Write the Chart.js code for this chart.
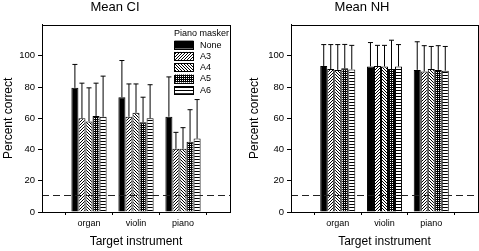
<!DOCTYPE html>
<html>
<head>
<meta charset="utf-8">
<script src="https://cdn.jsdelivr.net/npm/chart.js@4/dist/chart.umd.min.js"></script>
<style>
  html, body { margin: 0; padding: 0; background: #fff; }
  #wrap { position: relative; width: 479px; height: 251px; }
  #ci { position: absolute; left: 0; top: 0; }
  #nh { position: absolute; left: 246px; top: 0; }
</style>
</head>
<body>
<div id="wrap">
  <canvas id="ci" width="240" height="251"></canvas>
  <canvas id="nh" width="233" height="251"></canvas>
</div>
<script>
// categories on the x axis, placed at 1..3 on a 0..4 linear scale
const categories = ["organ", "violin", "piano"];
const categoryPos = [1, 2, 3];
const maskers = ["None", "A3", "A4", "A5", "A6"];
const yTicks = [0, 20, 40, 60, 80, 100];

// rows = masker, columns = organ / violin / piano
const ciMeans = [
  [79.5, 73.5, 61],
  [60, 61, 40.5],
  [58, 63.5, 40.5],
  [61.5, 57.5, 45],
  [61, 60, 47],
];
const ciUpper = [
  [94.5, 97, 86.5],
  [82.5, 82, 51],
  [79.5, 82, 54],
  [82.5, 73.5, 65.5],
  [87, 81.5, 72],
];
const nhMeans = [
  [93.5, 93.2, 91],
  [91.5, 93.5, 90],
  [91, 93.2, 91.5],
  [92, 91.5, 91],
  [91.3, 93.2, 90.5],
];
const nhUpper = [
  [107.2, 108.5, 109],
  [107.2, 106.7, 106.5],
  [107.2, 106.7, 106],
  [107.3, 110, 106.5],
  [106.7, 107.2, 106],
];
const chanceLevel = 11.1;

Chart.defaults.font.family = "'Liberation Sans', Arial, sans-serif";
Chart.defaults.color = "#000";

// small pixel patterns for the hatched bars
const makePattern = (size, isInk) => {
  const c = document.createElement("canvas");
  c.width = c.height = size;
  const g = c.getContext("2d");
  g.fillStyle = "#fff";
  g.fillRect(0, 0, size, size);
  g.fillStyle = "#000";
  for (let y = 0; y < size; y++) {
    for (let x = 0; x < size; x++) {
      if (isInk(x, y)) g.fillRect(x, y, 1, 1);
    }
  }
  return g.createPattern(c, "repeat");
};

const fills = [
  "#000",
  makePattern(3, (x, y) => (x + y) % 3 === 0),
  makePattern(3, (x, y) => ((x - y) % 3 + 3) % 3 === 0),
  makePattern(2, (x, y) => !(x === 0 && y === 0)),
  makePattern(3, (x, y) => y % 3 === 0),
];

const extras = {
  id: "extras",
  afterDatasetsDraw(chart, args, opts) {
    const { ctx, chartArea: a, scales } = chart;
    const y = scales.y;
    ctx.save();

    // upper error bars
    ctx.strokeStyle = "#000";
    ctx.lineWidth = 1;
    chart.data.datasets.forEach((ds, i) => {
      chart.getDatasetMeta(i).data.forEach((bar, j) => {
        const top = y.getPixelForValue(ds.upper[j]);
        ctx.beginPath();
        ctx.moveTo(bar.x, bar.y);
        ctx.lineTo(bar.x, top);
        ctx.moveTo(bar.x - 2.5, top);
        ctx.lineTo(bar.x + 2.5, top);
        ctx.stroke();
      });
    });

    // chance level
    const cy = Math.round(y.getPixelForValue(chanceLevel)) + 0.5;
    ctx.setLineDash([7, 4]);
    ctx.strokeStyle = "#222";
    ctx.beginPath();
    ctx.moveTo(a.left, cy);
    ctx.lineTo(a.right, cy);
    ctx.stroke();
    ctx.setLineDash([]);

    // frame
    ctx.strokeStyle = "#000";
    ctx.strokeRect(Math.round(a.left) + 0.5, Math.round(a.top) + 0.5,
      Math.round(a.right - a.left), Math.round(a.bottom - a.top));

    // legend
    if (opts.legend) {
      ctx.font = "9px 'Liberation Sans', Arial, sans-serif";
      ctx.fillStyle = "#000";
      ctx.textBaseline = "middle";
      ctx.textAlign = "left";
      const lx = a.right - 56;
      ctx.fillText("Piano masker", lx, a.top + 9);
      chart.data.datasets.forEach((ds, i) => {
        const ry = a.top + 19.5 + i * 11.3;
        ctx.fillStyle = ds.backgroundColor;
        ctx.fillRect(lx + 0.5, ry - 3.5, 19, 8);
        ctx.strokeStyle = "#000";
        ctx.strokeRect(lx + 0.5, Math.round(ry - 3.5) + 0.5, 19, 8);
        ctx.fillStyle = "#000";
        ctx.fillText(ds.label, lx + 26, ry + 1);
      });
    }
    ctx.restore();
  },
};

const makeChart = (canvas, title, means, upper, yWidth, padRight, legend) => {
  const datasets = maskers.map((name, i) => ({
    label: name,
    data: categoryPos.map((x, j) => ({ x: x, y: means[i][j] })),
    upper: upper[i],
    backgroundColor: fills[i],
    borderColor: "#000",
    borderWidth: 1,
    categoryPercentage: 0.75,
    barPercentage: 1,
  }));

  return new Chart(canvas.getContext("2d"), {
    type: "bar",
    data: { datasets: datasets },
    plugins: [extras],
    options: {
      responsive: false,
      animation: false,
      layout: { padding: { left: 0, right: padRight, top: 0, bottom: 0 } },
      scales: {
        x: {
          type: "linear",
          min: 0,
          max: 4,
          offset: false,
          afterBuildTicks: (scale) => {
            scale.ticks = categoryPos.map((v) => ({ value: v }));
          },
          afterFit: (scale) => { scale.height = 39; },
          ticks: {
            font: { size: 9 },
            padding: 3,
            maxRotation: 0,
            callback: (v) => categories[categoryPos.indexOf(v)],
          },
          grid: { drawOnChartArea: false, tickLength: 3, color: "#000" },
          border: { color: "#000" },
          title: {
            display: true,
            text: "Target instrument",
            font: { size: 12 },
            padding: { top: 4, bottom: 2 },
          },
        },
        y: {
          min: 0,
          max: 120,
          afterBuildTicks: (scale) => {
            scale.ticks = yTicks.map((v) => ({ value: v }));
          },
          afterFit: (scale) => { scale.width = yWidth; },
          ticks: { font: { size: 9.5 }, padding: 3 },
          grid: { drawOnChartArea: false, tickLength: 4, color: "#000" },
          border: { color: "#000" },
          title: {
            display: true,
            text: "Percent correct",
            font: { size: 12 },
            padding: { top: 1, bottom: 0 },
          },
        },
      },
      plugins: {
        legend: { display: false },
        tooltip: { enabled: false },
        title: {
          display: true,
          text: title,
          font: { size: 13, weight: 400 },
          padding: { top: 0, bottom: 9 },
        },
        extras: { legend: legend },
      },
    },
  });
};

makeChart(document.getElementById("ci"), "Mean CI", ciMeans, ciUpper, 42, 10, true);
makeChart(document.getElementById("nh"), "Mean NH", nhMeans, nhUpper, 45, 1, false);
</script>
</body>
</html>
